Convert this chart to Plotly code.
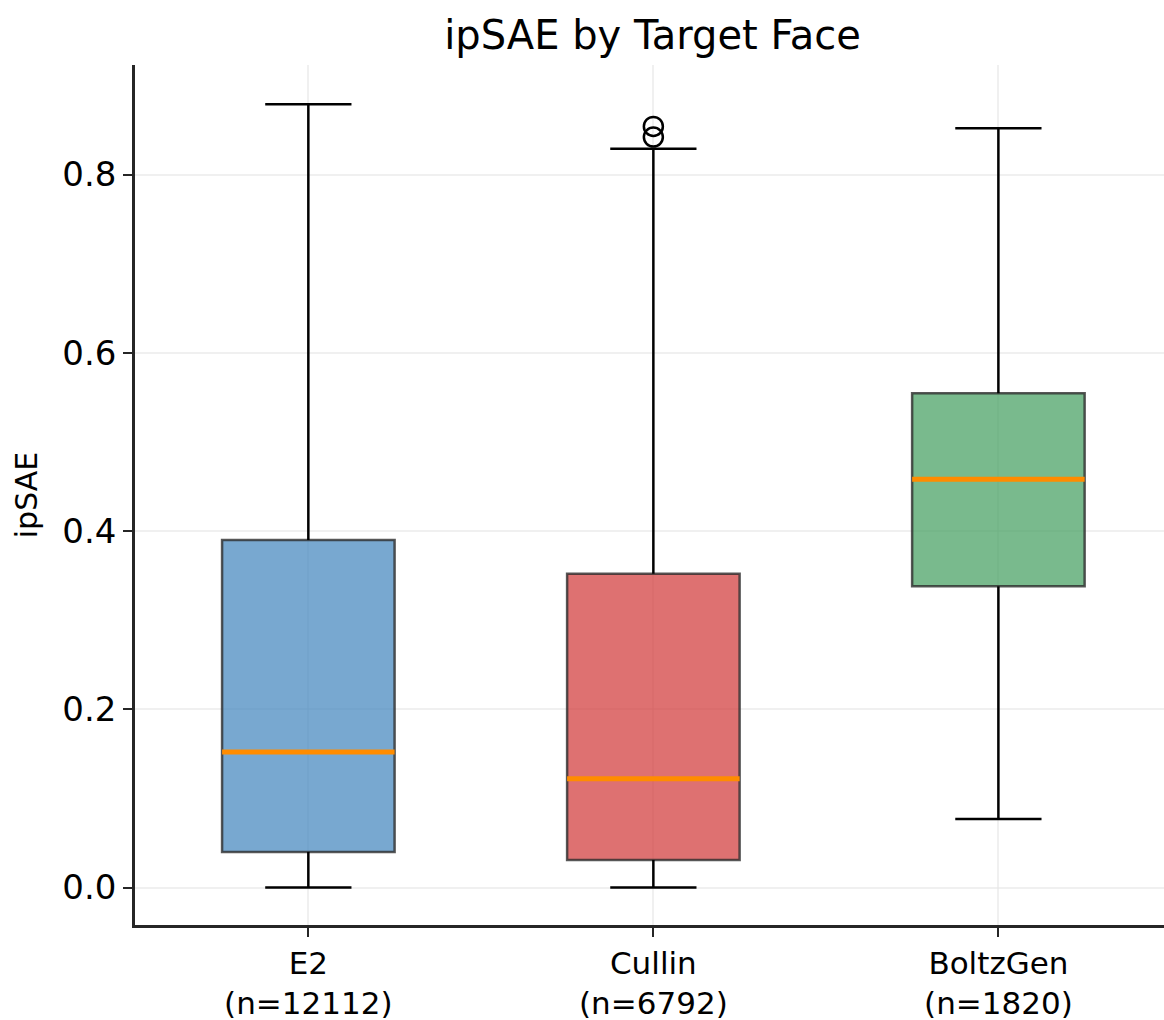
import plotly.graph_objects as go

categories = ["E2", "Cullin", "BoltzGen"]
counts = [12112, 6792, 1820]
q1 = [0.040, 0.031, 0.338]
median = [0.152, 0.122, 0.458]
q3 = [0.390, 0.352, 0.5545]
whisker_low = [0.0, 0.0, 0.077]
whisker_high = [0.879, 0.829, 0.852]
outlier_cat = ["Cullin", "Cullin"]
outlier_vals = [0.854, 0.842]
fill_colors = ["rgba(62,131,188,0.7)", "rgba(208,52,52,0.7)", "rgba(64,156,92,0.7)"]
y_ticks = [0.0, 0.2, 0.4, 0.6, 0.8]

FONT = "DejaVu Sans"
BOX_W = 0.5
CAP_W = 0.25

fig = go.Figure()

pos = list(range(len(categories)))

for i, cat in enumerate(categories):
    fig.add_trace(go.Box(
        x=[pos[i]], q1=[q1[i]], median=[median[i]], q3=[q3[i]],
        lowerfence=[q1[i]], upperfence=[q3[i]],
        width=BOX_W, fillcolor=fill_colors[i],
        line=dict(color="rgba(45,45,45,0.8)", width=2.5),
        whiskerwidth=0, boxpoints=False, showlegend=False, hoverinfo="skip",
    ))

# whiskers and caps
wx, wy = [], []
for i in range(len(categories)):
    p = pos[i]
    wx += [p, p, None, p, p, None,
           p - CAP_W / 2, p + CAP_W / 2, None, p - CAP_W / 2, p + CAP_W / 2, None]
    wy += [q3[i], whisker_high[i], None, q1[i], whisker_low[i], None,
           whisker_high[i], whisker_high[i], None, whisker_low[i], whisker_low[i], None]
fig.add_trace(go.Scatter(x=wx, y=wy, mode="lines", line=dict(color="black", width=2.5),
                         showlegend=False, hoverinfo="skip"))

# medians
mx, my = [], []
for i in range(len(categories)):
    p = pos[i]
    mx += [p - BOX_W / 2, p + BOX_W / 2, None]
    my += [median[i], median[i], None]
fig.add_trace(go.Scatter(x=mx, y=my, mode="lines", line=dict(color="#FF8C00", width=5),
                         showlegend=False, hoverinfo="skip"))

# outliers
ox = [categories.index(c) for c in outlier_cat]
fig.add_trace(go.Scatter(x=ox, y=outlier_vals, mode="markers",
                         marker=dict(symbol="circle-open", size=19, color="black",
                                     line=dict(width=2.5, color="black")),
                         showlegend=False, hoverinfo="skip"))

tick_text = [f"{c}<br>(n={n})" for c, n in zip(categories, counts)]

fig.update_layout(
    width=1164, height=1020,
    margin=dict(l=135, r=0, t=65, b=95),
    paper_bgcolor="white", plot_bgcolor="white",
    font=dict(family=FONT, color="black"),
    title=dict(text="ipSAE by Target Face", x=0.503, xref="paper", xanchor="center",
               y=1 - 35 / 1020, yref="container", yanchor="middle",
               font=dict(family=FONT, size=40, color="black")),
    xaxis=dict(
        range=[-0.5024, 2.480], tickvals=pos, ticktext=tick_text, automargin=False,
        showgrid=True, gridcolor="rgba(230,230,230,0.6)", gridwidth=1.5,
        zeroline=False, showline=True, linecolor="#262626", linewidth=2.5,
        ticks="outside", ticklen=9, tickwidth=2, tickcolor="#262626",
        tickfont=dict(family=FONT, size=31, color="black"),
    ),
    yaxis=dict(
        range=[-0.042, 0.9229], tickvals=y_ticks, ticktext=[f"{v:.1f}" for v in y_ticks],
        automargin=False,
        showgrid=True, gridcolor="rgba(230,230,230,0.6)", gridwidth=1.5,
        zeroline=False, showline=True, linecolor="#262626", linewidth=2.5,
        ticks="outside", ticklen=9, tickwidth=2, tickcolor="#262626",
        tickfont=dict(family=FONT, size=34, color="black"),
        title=dict(text="ipSAE", standoff=16, font=dict(family=FONT, size=30, color="black")),
    ),
)

fig.write_html("out.html")
